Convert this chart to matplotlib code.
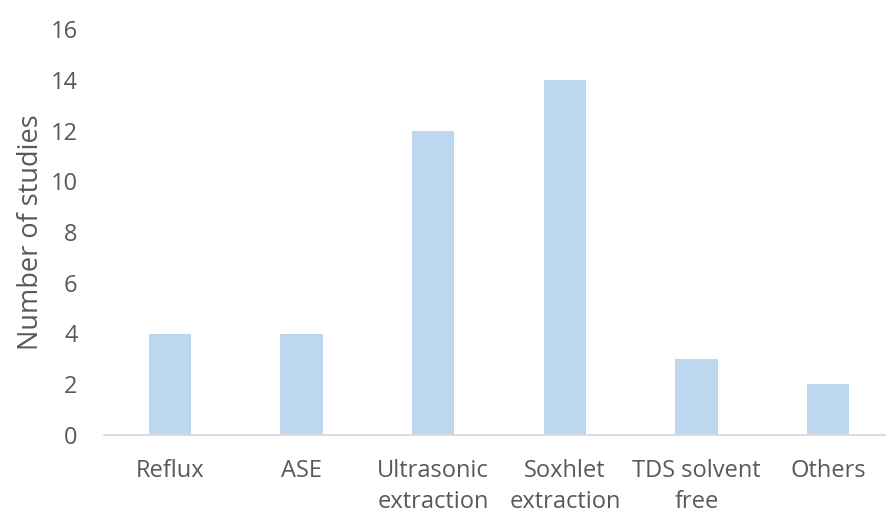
import matplotlib.pyplot as plt

plt.rcParams["font.family"] = ["Open Sans", "DejaVu Sans"]

categories = ["Reflux", "ASE", "Ultrasonic\nextraction", "Soxhlet\nextraction",
              "TDS solvent\nfree", "Others"]
studies = [4, 4, 12, 14, 3, 2]
y_ticks = [0, 2, 4, 6, 8, 10, 12, 14, 16]

TEXT = "#595959"

fig = plt.figure(figsize=(8.86, 5.16), dpi=100)
# axes run slightly past the right edge, as in the cropped source figure
ax = fig.add_axes([104 / 886, 81 / 516, 790 / 886, 406 / 516])

x = range(len(categories))
ax.bar(x, studies, width=0.32, color="#BDD7EE", zorder=2)

ax.set_xlim(-0.5, len(categories) - 0.5)
ax.set_ylim(0, 16)
ax.set_yticks(y_ticks)
ax.set_xticks(list(x))
ax.set_xticklabels(categories, linespacing=1.4)

for side in ["top", "right", "left"]:
    ax.spines[side].set_visible(False)
ax.spines["bottom"].set_color("#D9D9D9")
ax.spines["bottom"].set_linewidth(1.3)

ax.tick_params(axis="both", length=0, colors=TEXT, labelsize=17)
ax.tick_params(axis="x", pad=17)
ax.tick_params(axis="y", pad=19)
ax.set_ylabel("Number of studies", color=TEXT, fontsize=19.5, labelpad=4)

fig.savefig("out.png", dpi=100, facecolor="white")
